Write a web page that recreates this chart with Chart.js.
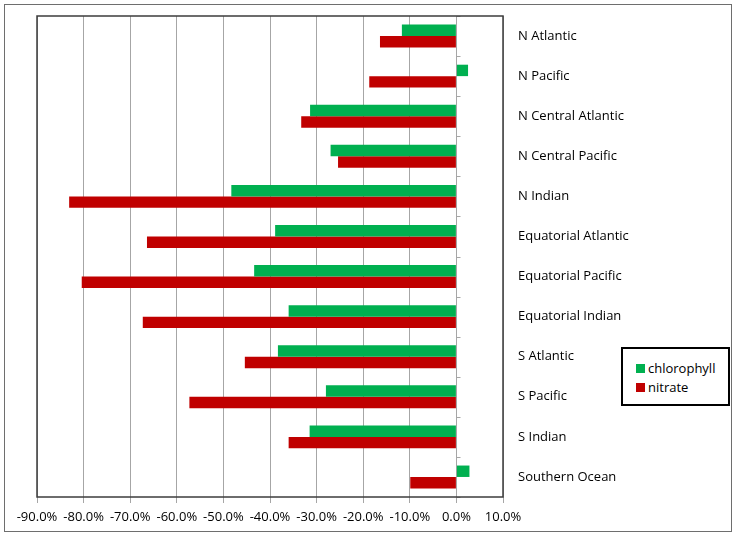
<!DOCTYPE html>
<html>
<head>
<meta charset="utf-8">
<script src="https://cdn.jsdelivr.net/npm/chart.js@4"></script>
<style>
  html, body { margin: 0; padding: 0; background: #fff; }
  #wrap { position: relative; width: 737px; height: 538px; }
  #frame { position: absolute; left: 4px; top: 4px; width: 726px; height: 526px; border: 1.5px solid #6e6e6e; pointer-events: none; }
  #legend {
    position: absolute; left: 621px; top: 347px; width: 105px; height: 55px;
    border: 2px solid #000; background: #fff;
    font: 13px "Open Sans", sans-serif; color: #000;
  }
  .lg-item { position: absolute; left: 13px; display: flex; align-items: center; }
  .lg-box { width: 9px; height: 9px; margin-right: 3px; }
</style>
</head>
<body>
<div id="wrap">
  <canvas id="chart" width="737" height="538"></canvas>
  <div id="frame"></div>
  <div id="legend"></div>
</div>
<script>
const regions = ['N Atlantic', 'N Pacific', 'N Central Atlantic', 'N Central Pacific', 'N Indian',
  'Equatorial Atlantic', 'Equatorial Pacific', 'Equatorial Indian', 'S Atlantic', 'S Pacific',
  'S Indian', 'Southern Ocean'];
const chlorophyll = [-11.7, 2.5, -31.4, -27.0, -48.3, -38.9, -43.4, -36.0, -38.3, -28.0, -31.5, 2.8];
const nitrate = [-16.4, -18.7, -33.3, -25.4, -83.1, -66.4, -80.4, -67.3, -45.4, -57.3, -36.0, -9.9];
const seriesNames = ['chlorophyll', 'nitrate'];
const seriesColors = ['#00b050', '#c00000'];

const FONT = { family: '"Open Sans", sans-serif', size: 13 };
const GRID = '#a6a6a6';

// plot frame + small ticks on the zero axis
const framePlugin = {
  id: 'frame',
  afterDraw(chart) {
    const { ctx, chartArea: a, scales } = chart;
    const x0 = Math.round(scales.x.getPixelForValue(0)) + 0.5;
    ctx.save();
    ctx.strokeStyle = GRID;
    ctx.lineWidth = 1;
    ctx.beginPath();
    for (let i = 0; i <= regions.length; i++) {
      const y = Math.round(scales.y.getPixelForValue(i - 0.5)) + 0.5;
      ctx.moveTo(x0, y);
      ctx.lineTo(x0 + 4, y);
    }
    ctx.stroke();
    ctx.strokeStyle = '#3c3c3c';
    ctx.lineWidth = 1.5;
    ctx.strokeRect(a.left, a.top, a.right - a.left, a.bottom - a.top);
    ctx.restore();
  }
};

new Chart(document.getElementById('chart'), {
  type: 'bar',
  data: {
    labels: regions,
    datasets: [
      { label: seriesNames[0], data: chlorophyll, backgroundColor: seriesColors[0] },
      { label: seriesNames[1], data: nitrate, backgroundColor: seriesColors[1] }
    ]
  },
  options: {
    indexAxis: 'y',
    responsive: false,
    animation: false,
    categoryPercentage: 0.57,
    barPercentage: 1.0,
    layout: { padding: { left: 37, top: 16, right: 0, bottom: 0 } },
    plugins: { legend: { display: false }, tooltip: { enabled: false } },
    scales: {
      x: {
        min: -90, max: 10,
        border: { display: false },
        grid: { color: GRID, lineWidth: 1, tickLength: 6, tickColor: GRID },
        ticks: { stepSize: 10, color: '#000', font: FONT, padding: 6, maxRotation: 0,
          autoSkip: false, callback: v => v.toFixed(1) + '%' },
        afterFit: s => { s.height = 41; }
      },
      y: {
        position: 'right',
        border: { display: false },
        grid: { display: false, drawTicks: false },
        ticks: { color: '#000', font: FONT, padding: 15 },
        afterFit: s => { s.width = 234; s.paddingTop = 0; s.paddingBottom = 0; }
      }
    }
  },
  plugins: [framePlugin]
});

document.getElementById('legend').innerHTML = seriesNames.map((n, i) =>
  `<div class="lg-item" style="top:${10 + i * 19}px"><span class="lg-box" style="background:${seriesColors[i]}"></span>${n}</div>`
).join('');
</script>
</body>
</html>
